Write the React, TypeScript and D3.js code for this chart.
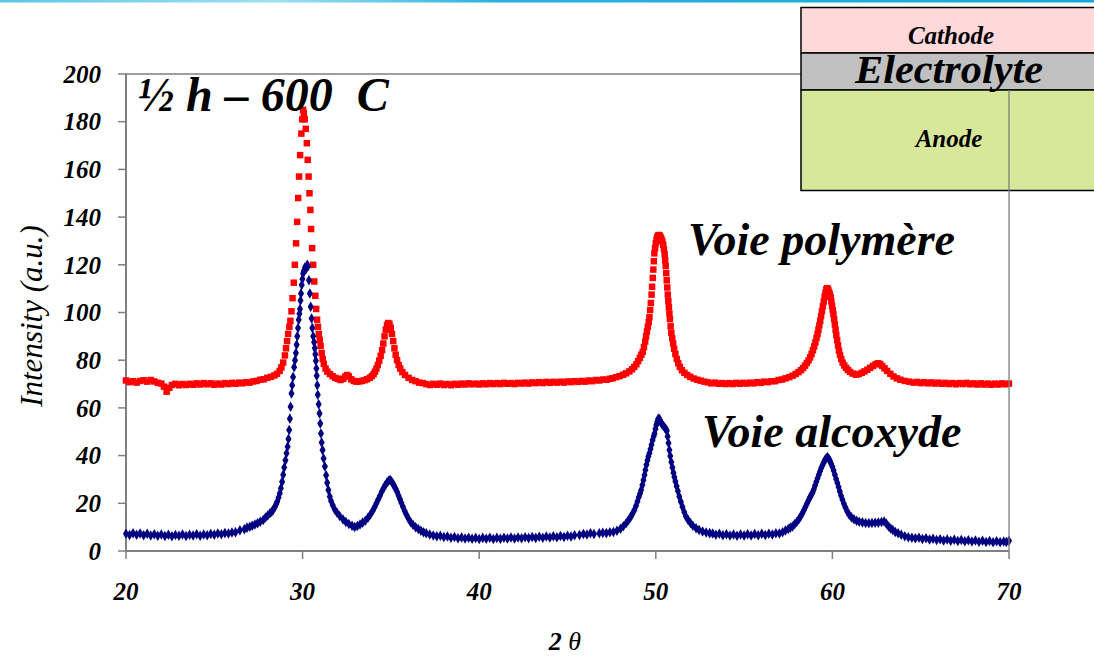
import * as d3 from "d3";

// XRD patterns, [2θ, intensity]
const polymere: [number, number][] = [
  [20.0,71.5],[20.2,70.8],[20.4,71.2],[20.6,70.6],[20.8,71.3],[21.0,71.6],[21.2,71.0],[21.4,71.7],[21.6,71.1],[21.8,70.5],
  [22.0,70.2],[22.15,68.9],[22.3,66.8],[22.45,68.4],[22.6,69.6],[22.8,70.1],[23.0,69.5],[23.2,70.0],[23.4,69.6],[23.6,70.1],
  [23.8,69.7],[24.0,70.3],[24.2,69.8],[24.4,70.4],[24.6,69.9],[24.8,70.3],[25.0,69.7],[25.2,70.2],[25.4,69.8],[25.6,70.4],
  [25.8,70.0],[26.0,70.5],[26.2,70.1],[26.4,70.6],[26.6,70.3],[26.8,70.8],[27.0,70.6],[27.2,71.1],[27.4,71.3],[27.6,71.8],
  [27.8,72.0],[28.0,72.6],[28.2,73.0],[28.4,73.6],[28.55,74.3],[28.7,75.5],[28.8,77.0],[28.9,79.0],[29.0,82.0],[29.06,85.0],
  [29.12,88.0],[29.18,91.0],[29.25,94.0],[29.31,96.5],[29.37,100.5],[29.43,106],[29.5,112.5],[29.56,120],[29.63,129],[29.69,138],
  [29.75,148],[29.8,157],[29.86,166],[29.93,175],[29.98,181],[30.03,185],[30.07,183.5],[30.12,181],[30.18,177],[30.24,171],
  [30.29,164],[30.34,157],[30.39,150],[30.44,143],[30.48,135],[30.54,127],[30.6,120],[30.66,113],[30.72,107],[30.77,101.5],
  [30.82,97],[30.87,94],[30.92,91],[30.97,88.5],[31.02,86],[31.08,83],[31.14,80.5],[31.2,78.5],[31.3,76.5],[31.4,75.2],
  [31.55,74.2],[31.7,73.3],[31.85,72.6],[32.0,72.2],[32.15,71.7],[32.3,72.2],[32.42,73.2],[32.52,73.8],[32.62,73.2],[32.75,72.0],
  [32.9,71.3],[33.05,71.0],[33.2,71.1],[33.35,71.3],[33.5,71.6],[33.65,72.0],[33.8,72.6],[33.92,73.3],[34.02,74.2],[34.1,75.2],
  [34.18,76.5],[34.26,78.0],[34.34,79.8],[34.42,81.8],[34.5,84.2],[34.57,87.0],[34.64,90.0],[34.71,92.8],[34.78,94.8],[34.85,95.6],
  [34.92,95.2],[34.99,93.6],[35.06,91.0],[35.13,88.0],[35.2,85.0],[35.27,82.3],[35.35,80.0],[35.44,78.0],[35.53,76.5],[35.65,75.0],
  [35.8,73.8],[36.0,72.6],[36.2,71.7],[36.4,71.2],[36.6,70.6],[36.8,70.4],[37.0,70.0],[37.2,69.6],[37.4,70.1],[37.6,69.7],
  [37.8,70.2],[38.0,69.6],[38.2,70.0],[38.4,69.5],[38.6,70.1],[38.8,69.7],[39.0,70.2],[39.2,69.8],[39.4,70.3],[39.6,69.9],
  [39.8,70.2],[40.0,69.8],[40.2,70.3],[40.4,69.9],[40.6,70.4],[40.8,70.0],[41.0,70.4],[41.2,70.0],[41.4,70.5],[41.6,70.1],
  [41.8,70.4],[42.0,70.0],[42.2,70.5],[42.4,70.2],[42.6,70.6],[42.8,70.2],[43.0,70.7],[43.2,70.4],[43.4,70.8],[43.6,70.4],
  [43.8,70.9],[44.0,70.5],[44.2,70.9],[44.4,70.6],[44.6,71.0],[44.8,70.6],[45.0,71.1],[45.2,70.8],[45.4,71.2],[45.6,70.9],
  [45.8,71.3],[46.0,71.0],[46.2,71.5],[46.4,71.2],[46.6,71.7],[46.8,71.5],[47.0,71.9],[47.2,71.8],[47.4,72.2],[47.56,72.4],
  [47.75,72.9],[47.95,73.3],[48.15,73.9],[48.32,74.5],[48.5,75.3],[48.65,76.2],[48.78,77.2],[48.9,78.3],[49.0,79.6],[49.1,81.0],
  [49.18,82.3],[49.26,83.5],[49.33,85.5],[49.4,87.8],[49.45,90.0],[49.5,92.0],[49.55,94.0],[49.6,96.0],[49.64,98.0],[49.68,101],
  [49.72,104],[49.76,107.5],[49.79,110.8],[49.83,114.5],[49.86,118],[49.89,121.5],[49.92,124.8],[49.96,127],[50.0,129],[50.04,130.5],
  [50.08,131.5],[50.12,132.2],[50.17,132.5],[50.22,132.2],[50.27,131.6],[50.32,130.8],[50.37,129.8],[50.42,128.4],[50.46,126.6],[50.5,124.5],
  [50.53,122],[50.56,119.5],[50.59,116.5],[50.62,113.5],[50.65,110.5],[50.68,107.5],[50.71,104.8],[50.74,102.2],[50.77,99.6],[50.8,97.2],
  [50.84,94.2],[50.88,91.5],[50.93,89.2],[50.98,87],[51.04,84.8],[51.11,82.6],[51.19,80.5],[51.27,78.7],[51.36,77.2],[51.48,75.8],
  [51.62,74.7],[51.78,73.8],[51.95,73.0],[52.15,72.3],[52.35,71.8],[52.55,71.4],[52.75,71.0],[52.95,70.7],[53.15,70.3],[53.35,70.6],
  [53.55,70.1],[53.75,70.4],[53.95,70.0],[54.15,70.4],[54.35,70.0],[54.55,70.5],[54.75,70.1],[54.95,70.5],[55.15,70.2],[55.35,70.6],
  [55.55,70.3],[55.75,70.8],[55.95,70.5],[56.15,71.0],[56.35,70.8],[56.55,71.2],[56.75,71.2],[56.95,71.7],[57.15,71.9],[57.35,72.4],
  [57.56,72.9],[57.75,73.5],[57.92,74.2],[58.08,75.0],[58.22,75.8],[58.34,76.7],[58.45,77.7],[58.55,78.8],[58.65,79.9],[58.74,81.2],
  [58.82,82.6],[58.9,84.2],[58.97,85.8],[59.04,87.5],[59.1,89.3],[59.16,91.0],[59.21,92.8],[59.26,94.6],[59.31,96.5],[59.36,98.5],
  [59.41,100.6],[59.46,102.6],[59.51,104.6],[59.56,106.6],[59.61,108.4],[59.66,109.8],[59.71,110.2],[59.76,109.6],[59.81,108.6],[59.86,107.6],
  [59.9,106.4],[59.94,104.6],[59.98,102.8],[60.02,101.0],[60.06,99.2],[60.1,97.2],[60.14,95.0],[60.18,92.8],[60.22,90.6],[60.27,88.4],
  [60.32,86.2],[60.37,84.0],[60.43,82.2],[60.5,80.5],[60.58,79.0],[60.67,77.8],[60.77,76.8],[60.88,75.9],[61.0,75.1],[61.15,74.4],
  [61.33,73.9],[61.5,74.2],[61.66,74.7],[61.82,75.3],[61.98,76.0],[62.14,76.8],[62.3,77.6],[62.45,78.3],[62.58,78.7],[62.7,78.4],
  [62.82,77.6],[62.95,76.6],[63.1,75.5],[63.28,74.3],[63.46,73.2],[63.65,72.4],[63.85,71.8],[64.1,71.3],[64.35,71.0],[64.6,70.6],
  [64.8,70.9],[65.0,70.4],[65.2,70.8],[65.4,70.3],[65.6,70.7],[65.8,70.2],[66.0,70.6],[66.2,70.1],[66.4,70.5],[66.6,70.0],
  [66.8,70.4],[67.0,69.9],[67.2,70.4],[67.4,70.0],[67.6,70.5],[67.8,69.9],[68.0,70.3],[68.2,69.8],[68.4,70.3],[68.6,69.8],
  [68.8,70.2],[69.0,69.7],[69.2,70.2],[69.4,69.8],[69.6,70.3],[69.8,69.9],[70.0,70.2],
];

const alcoxyde: [number, number][] = [
  [20.0,7.2],[20.2,6.7],[20.4,7.4],[20.6,6.8],[20.8,7.3],[21.0,6.6],[21.2,7.2],[21.4,6.5],[21.6,7.0],[21.8,6.4],
  [22.0,6.9],[22.2,6.3],[22.4,6.8],[22.6,6.2],[22.8,6.7],[23.0,6.4],[23.2,6.9],[23.4,6.3],[23.6,6.8],[23.8,6.5],
  [24.0,7.0],[24.2,6.4],[24.4,6.9],[24.6,6.6],[24.8,7.1],[25.0,6.8],[25.2,7.3],[25.4,7.0],[25.6,7.5],[25.8,7.3],
  [26.0,7.8],[26.2,7.9],[26.45,8.7],[26.7,9.1],[26.85,9.8],[27.01,10.2],[27.15,10.6],[27.3,11.1],[27.45,11.6],[27.6,12.3],
  [27.77,13.0],[27.9,14.0],[28.03,14.9],[28.15,15.8],[28.25,16.5],[28.33,17.2],[28.42,18.3],[28.5,19.6],[28.57,20.8],[28.64,22.4],
  [28.71,24.2],[28.77,26.3],[28.84,29.0],[28.9,32.0],[28.96,35.0],[29.03,38],[29.09,41],[29.15,43.7],[29.2,47],[29.24,50.7],
  [29.28,55.5],[29.32,60.5],[29.37,66],[29.41,69.5],[29.46,73],[29.52,77],[29.57,80],[29.62,83],[29.66,86.5],[29.7,90],
  [29.74,93.5],[29.78,97],[29.82,99.5],[29.85,101.5],[29.88,105],[29.91,108],[29.95,111.5],[29.99,114],[30.03,116.4],[30.08,117.6],
  [30.14,119.0],[30.2,118.4],[30.26,120.0],[30.31,119.4],[30.36,113.5],[30.41,108],[30.46,102.4],[30.51,97.5],[30.55,93.5],[30.6,90],
  [30.65,87.5],[30.69,85],[30.72,82.5],[30.75,79.8],[30.78,76.5],[30.8,73.5],[30.83,69.5],[30.86,65.5],[30.91,61.5],[30.96,57.7],
  [31.0,53.5],[31.04,49.3],[31.08,45.5],[31.13,42.3],[31.19,38.8],[31.26,35.4],[31.33,31.8],[31.39,28.6],[31.46,25.6],[31.54,22.8],
  [31.61,21.0],[31.7,19.3],[31.82,17.4],[31.95,16.0],[32.1,14.7],[32.29,13.2],[32.45,12.2],[32.62,11.3],[32.8,10.6],[32.95,10.1],
  [33.1,10.5],[33.25,11.1],[33.4,11.9],[33.55,12.7],[33.7,13.9],[33.84,15.3],[33.97,16.9],[34.08,18.4],[34.18,20],[34.28,21.6],
  [34.38,23.2],[34.48,24.8],[34.58,26.3],[34.68,27.6],[34.78,28.7],[34.87,29.5],[34.95,29.8],[35.03,29.2],[35.11,28.3],[35.19,27.2],
  [35.27,26.1],[35.35,24.8],[35.43,23.3],[35.51,21.8],[35.59,20.2],[35.68,18.6],[35.78,16.8],[35.88,15.2],[36.0,13.5],[36.12,12.1],
  [36.25,11.0],[36.4,10.0],[36.55,9.2],[36.7,8.5],[36.85,7.9],[37.0,7.4],[37.2,6.9],[37.4,6.5],[37.6,6.2],[37.8,6.4],
  [38.0,5.9],[38.2,6.1],[38.4,5.6],[38.6,5.9],[38.8,5.3],[39.0,5.7],[39.2,5.2],[39.4,5.6],[39.6,5.1],[39.8,5.5],
  [40.0,5.0],[40.2,5.5],[40.4,5.1],[40.6,5.6],[40.8,5.0],[41.0,5.5],[41.2,5.1],[41.4,5.6],[41.6,5.2],[41.8,5.7],
  [42.0,5.2],[42.2,5.7],[42.4,5.3],[42.6,5.8],[42.8,5.4],[43.0,5.9],[43.2,5.5],[43.4,6.0],[43.6,5.6],[43.8,6.1],
  [44.0,5.7],[44.2,6.2],[44.4,5.8],[44.6,6.3],[44.8,5.9],[45.0,6.4],[45.2,6.1],[45.4,6.6],[45.68,6.7],[45.9,7.1],
  [46.1,6.9],[46.3,7.4],[46.5,7.1],[46.8,7.4],[47.0,7.6],[47.2,7.5],[47.4,7.9],[47.6,8.0],[47.8,8.5],[48.0,9.3],
  [48.16,10.4],[48.32,11.6],[48.45,12.9],[48.57,14.2],[48.68,15.6],[48.79,17.2],[48.88,19.0],[48.96,20.8],[49.04,22.6],[49.11,24.1],
  [49.17,25.6],[49.24,27.7],[49.3,29.8],[49.36,31.9],[49.41,34.0],[49.47,36.2],[49.53,38.0],[49.58,39.6],[49.64,41.0],[49.7,42.8],
  [49.76,44.6],[49.82,46.5],[49.88,48.1],[49.93,49.3],[49.98,51.2],[50.03,52.8],[50.08,54.2],[50.13,55.3],[50.18,55.6],[50.23,55.0],
  [50.29,54.0],[50.36,53.0],[50.43,52.4],[50.5,51.8],[50.56,51.3],[50.62,50.4],[50.67,48.0],[50.72,45.3],[50.77,42.3],[50.82,39.8],
  [50.88,37.3],[50.94,35.0],[51.0,32.8],[51.05,31.0],[51.11,29.2],[51.18,27.2],[51.25,25.2],[51.33,22.8],[51.42,20.6],[51.51,18.5],
  [51.61,16.3],[51.71,14.5],[51.83,13.0],[51.96,11.7],[52.1,10.6],[52.28,9.5],[52.45,8.8],[52.65,8.2],[52.85,7.8],[53.05,7.5],
  [53.22,7.3],[53.4,6.8],[53.6,7.2],[53.8,6.6],[54.0,7.0],[54.2,6.5],[54.4,6.9],[54.6,6.4],[54.8,6.9],[55.0,6.5],
  [55.2,7.0],[55.4,6.5],[55.6,7.1],[55.8,6.6],[56.0,7.2],[56.2,6.7],[56.4,7.2],[56.6,6.9],[56.8,7.4],[57.0,7.3],
  [57.18,7.9],[57.34,8.6],[57.5,9.2],[57.62,9.8],[57.74,10.3],[57.86,11.2],[57.98,12.2],[58.1,13.3],[58.2,14.5],[58.3,15.8],
  [58.39,17.2],[58.48,18.6],[58.57,20.0],[58.65,21.3],[58.73,22.5],[58.81,23.6],[58.88,24.5],[58.95,25.9],[59.02,27.5],[59.09,29.0],
  [59.16,30.5],[59.23,32.0],[59.3,33.4],[59.37,34.8],[59.44,36.0],[59.51,37.2],[59.58,38.2],[59.65,38.9],[59.72,39.3],[59.79,38.8],
  [59.86,37.8],[59.93,36.6],[60.0,35.3],[60.07,33.8],[60.14,32.0],[60.21,30.2],[60.28,28.6],[60.35,26.8],[60.42,25.0],[60.49,23.2],
  [60.57,21.5],[60.65,19.8],[60.74,18.2],[60.84,16.6],[60.95,15.2],[61.08,14.1],[61.22,13.3],[61.37,12.7],[61.52,12.3],[61.7,12.0],
  [61.88,11.7],[62.06,11.6],[62.24,11.7],[62.42,11.8],[62.6,11.9],[62.78,12.2],[62.93,12.4],[63.06,11.4],[63.18,10.3],[63.3,9.4],
  [63.42,8.8],[63.56,8.0],[63.72,7.4],[63.9,6.8],[64.1,6.2],[64.3,5.8],[64.5,5.6],[64.7,5.3],[64.9,5.6],[65.1,5.0],
  [65.3,5.3],[65.5,4.8],[65.7,5.1],[65.9,4.6],[66.1,4.9],[66.3,4.4],[66.5,4.8],[66.7,4.3],[66.9,4.7],[67.1,4.2],
  [67.3,4.6],[67.5,4.1],[67.7,4.5],[67.9,4.0],[68.1,4.4],[68.3,3.9],[68.5,4.3],[68.7,3.8],[68.9,4.2],[69.1,3.7],
  [69.3,4.1],[69.5,3.7],[69.7,4.0],[69.85,3.8],[70.0,4.3],
];

const xTicks = [20, 30, 40, 50, 60, 70];
const yTicks = [0, 20, 40, 60, 80, 100, 120, 140, 160, 180, 200];
const layers = ["Cathode", "Electrolyte", "Anode"];

const serif = "'Liberation Serif', 'Times New Roman', Times, serif";
const axisGrey = "#7f7f7f";

export default function App() {
  const width = 1094;
  const height = 657;
  const margin = { top: 74, right: 85, bottom: 106, left: 126 };

  const x = d3.scaleLinear().domain([20, 70]).range([margin.left, width - margin.right]);
  const y = d3.scaleLinear().domain([0, 200]).range([height - margin.bottom, margin.top]);
  const [x0, x1] = x.range();
  const [y0, y1] = y.range();

  const square = d3.symbol().type(d3.symbolSquare).size(42)()!;
  const diamond = d3.symbol().type(d3.symbolDiamond).size(32)()!;

  // layered cell drawn in the corner
  const boxX = 801;
  const layerY = [7.5, 53, 90, 190.5];
  const layerFill = ["#ffd9d9", "#c0c0c0", "#d8e89a"];

  const bi = { fontFamily: serif, fontWeight: 700, fontStyle: "italic" } as const;

  return (
    <svg
      width={width}
      height={height}
      style={{ position: "absolute", left: 0, top: 0, background: "#fff", fontFamily: serif }}
    >
      <defs>
        <linearGradient id="topStrip" x1="0" x2="1" y1="0" y2="0">
          <stop offset="0%" stopColor="#5cc6e6" />
          <stop offset="25%" stopColor="#9fe0f2" />
          <stop offset="45%" stopColor="#29b3de" />
          <stop offset="100%" stopColor="#12a9da" />
        </linearGradient>
      </defs>
      <rect x={0} y={0} width={width} height={2.5} fill="url(#topStrip)" />

      {/* frame */}
      <line x1={x0} x2={boxX} y1={y1} y2={y1} stroke={axisGrey} strokeWidth={1.3} />
      <line x1={x0} x2={x0} y1={y1} y2={y0} stroke={axisGrey} strokeWidth={2} />
      <line x1={x0} x2={x1} y1={y0} y2={y0} stroke={axisGrey} strokeWidth={2} />

      {yTicks.map((t) => (
        <g key={"y" + t}>
          <line x1={x0 - 8} x2={x0} y1={y(t)} y2={y(t)} stroke={axisGrey} strokeWidth={1.5} />
          <text x={x0 - 25} y={y(t)} dy="0.35em" textAnchor="end" fontSize={25} style={bi}>
            {t}
          </text>
        </g>
      ))}
      {xTicks.map((t) => (
        <g key={"x" + t}>
          <line x1={x(t)} x2={x(t)} y1={y0} y2={y0 + 8} stroke={axisGrey} strokeWidth={1.5} />
          <text x={x(t)} y={600} textAnchor="middle" fontSize={25} style={bi}>
            {t}
          </text>
        </g>
      ))}

      <text
        transform="translate(42,316) rotate(-90)"
        textAnchor="middle"
        fontSize={31}
        style={{ fontFamily: serif, fontStyle: "italic" }}
      >
        Intensity (a.u.)
      </text>
      <text x={565} y={650} textAnchor="middle" fontSize={26} style={{ fontFamily: serif, fontStyle: "italic" }}>
        <tspan fontWeight="bold">2</tspan> θ
      </text>

      {/* markers */}
      {polymere.map(([tt, v], i) => (
        <path key={"p" + i} d={square} transform={`translate(${x(tt)},${y(v)})`} fill="#ff0000" />
      ))}
      {alcoxyde.map(([tt, v], i) => (
        <path key={"a" + i} d={diamond} transform={`translate(${x(tt)},${y(v)})`} fill="#000080" />
      ))}

      <text x={138} y={111} fontSize={48} style={{ ...bi, whiteSpace: "pre" }}>
        ½ h – 600  C
      </text>
      <text x={688} y={255} fontSize={46} style={bi}>
        Voie polymère
      </text>
      <text x={702} y={447} fontSize={46} style={bi}>
        Voie alcoxyde
      </text>

      {/* cell layers */}
      {layers.map((name, i) => (
        <rect
          key={name}
          x={boxX}
          y={layerY[i]}
          width={width - boxX + 10}
          height={layerY[i + 1] - layerY[i]}
          fill={layerFill[i]}
          stroke="#000"
          strokeWidth={1.5}
        />
      ))}
      <line x1={x1} x2={x1} y1={layerY[2]} y2={y0} stroke={axisGrey} strokeWidth={1.3} />
      <text x={951} y={44} textAnchor="middle" fontSize={25} style={bi}>
        {layers[0]}
      </text>
      <text
        x={949}
        y={83}
        textAnchor="middle"
        fontSize={40}
        style={bi}
        textLength={188}
        lengthAdjust="spacingAndGlyphs"
      >
        {layers[1]}
      </text>
      <text x={949} y={147} textAnchor="middle" fontSize={25} style={bi}>
        {layers[2]}
      </text>
    </svg>
  );
}
